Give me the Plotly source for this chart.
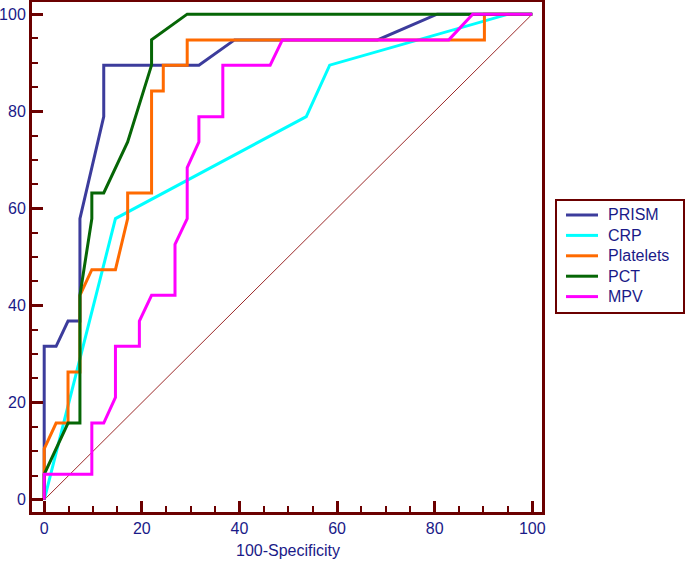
import plotly.graph_objects as go

# ROC curve data (100-Specificity, Sensitivity)
prism_x = [0, 0, 2.44, 4.88, 7.32, 7.32, 12.2, 12.2, 31.7, 39.0, 68.3, 80.5, 100]
prism_y = [0, 31.6, 31.6, 36.8, 36.8, 57.9, 78.9, 89.5, 89.5, 94.7, 94.7, 100, 100]

crp_x = [0, 14.6, 53.7, 58.5, 95.1, 100]
crp_y = [0, 57.9, 78.9, 89.5, 100, 100]

plt_x = [0, 0, 2.44, 4.88, 4.88, 7.32, 7.32, 9.76, 14.6, 17.1, 17.1, 22.0, 22.0,
         24.4, 24.4, 29.3, 29.3, 90.2, 90.2, 100]
plt_y = [0, 10.5, 15.8, 15.8, 26.3, 26.3, 42.1, 47.4, 47.4, 57.9, 63.2, 63.2, 84.2,
         84.2, 89.5, 89.5, 94.7, 94.7, 100, 100]

pct_x = [0, 0, 4.88, 7.32, 7.32, 9.76, 9.76, 12.2, 17.1, 22.0, 22.0, 29.3, 100]
pct_y = [0, 5.26, 15.8, 15.8, 42.1, 57.9, 63.2, 63.2, 73.7, 89.5, 94.7, 100, 100]

mpv_x = [0, 0, 9.76, 9.76, 12.2, 14.6, 14.6, 19.5, 19.5, 22.0, 26.8, 26.8, 29.3,
         29.3, 31.7, 31.7, 36.6, 36.6, 46.3, 48.8, 82.9, 87.8, 100]
mpv_y = [0, 5.26, 5.26, 15.8, 15.8, 21.1, 31.6, 31.6, 36.8, 42.1, 42.1, 52.6, 57.9,
         68.4, 73.7, 78.9, 78.9, 89.5, 89.5, 94.7, 94.7, 100, 100]

ref_x = [0, 100]
ref_y = [0, 100]

names = ["PRISM", "CRP", "Platelets", "PCT", "MPV"]
xs_all = [prism_x, crp_x, plt_x, pct_x, mpv_x]
ys_all = [prism_y, crp_y, plt_y, pct_y, mpv_y]
colors = ["#3C3C9C", "#00FFFF", "#FF6A00", "#066606", "#FF00FF"]

FRAME = "#6B0000"
TXT = "#1A1A88"
FONT = "Liberation Sans, Arial, sans-serif"

W, H = 685, 563
ML, MR, MT, MB = 32, 143, 2, 51
PW, PH = W - ML - MR, H - MT - MB


def px_to_paper(px, py):
    return (px - ML) / PW, (H - MB - py) / PH


fig = go.Figure()
fig.add_trace(go.Scatter(x=ref_x, y=ref_y, mode="lines", showlegend=False,
                         hoverinfo="skip",
                         line=dict(color="#9C2A2A", width=1)))
for name, xs, ys, col in zip(names, xs_all, ys_all, colors):
    fig.add_trace(go.Scatter(x=xs, y=ys, mode="lines", name=name, showlegend=False,
                             line=dict(color=col, width=3)))

axis_common = dict(
    showgrid=False, zeroline=False, showline=True, mirror=True,
    linecolor=FRAME, linewidth=3, automargin=False,
    ticks="inside", ticklen=11, tickwidth=3, tickcolor=FRAME,
    dtick=20, tick0=0,
    minor=dict(ticks="inside", ticklen=6, tickwidth=2, tickcolor=FRAME, dtick=5, tick0=0),
    tickfont=dict(family=FONT, size=16, color=TXT),
)

fig.update_xaxes(range=[-2.5, 102.0], **axis_common)
fig.update_yaxes(range=[-2.5, 102.5], **axis_common)

annotations = []
shapes = []
# x-axis title
tx, ty = px_to_paper(288, 550)
annotations.append(dict(text="100-Specificity", x=tx, y=ty, xref="paper", yref="paper",
                        showarrow=False, xanchor="center", yanchor="middle",
                        font=dict(family=FONT, size=16, color=TXT)))

# legend box
x0, y0 = px_to_paper(556, 313)
x1, y1 = px_to_paper(684, 200)
shapes.append(dict(type="rect", xref="paper", yref="paper", x0=x0, y0=y0, x1=x1, y1=y1,
                   line=dict(color=FRAME, width=2), fillcolor="white", layer="above"))
for i, (name, col) in enumerate(zip(names, colors)):
    py = 215 + 20.4 * i
    lx0, ly = px_to_paper(566, py)
    lx1, _ = px_to_paper(598, py)
    shapes.append(dict(type="line", xref="paper", yref="paper", x0=lx0, x1=lx1, y0=ly, y1=ly,
                       line=dict(color=col, width=3), layer="above"))
    tx, _ = px_to_paper(606, py)
    annotations.append(dict(text=name, x=tx, y=ly, xref="paper", yref="paper",
                            showarrow=False, xanchor="left", yanchor="middle",
                            font=dict(family=FONT, size=16, color=TXT)))

fig.update_layout(
    width=W, height=H,
    margin=dict(l=ML, r=MR, t=MT, b=MB),
    paper_bgcolor="white", plot_bgcolor="white",
    showlegend=False,
    annotations=annotations, shapes=shapes,
)

fig.write_html("out.html", config={"displayModeBar": False},
               post_script="document.body.style.margin='0';")
